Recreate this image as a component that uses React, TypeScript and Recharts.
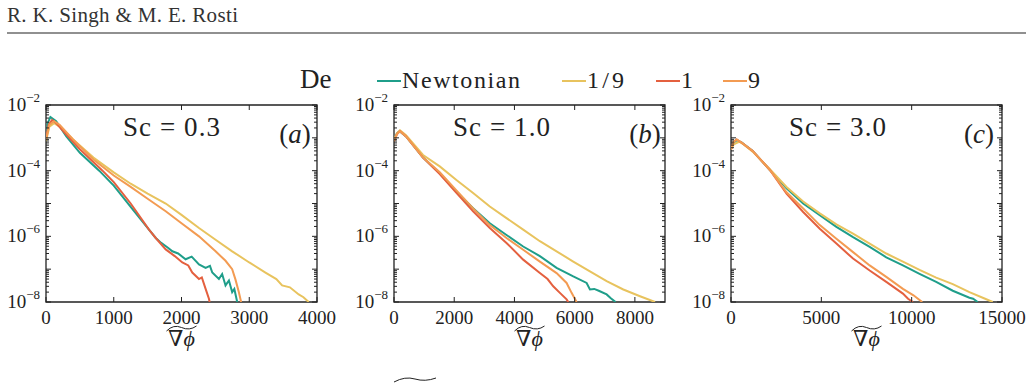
import React from 'react';
import { LineChart, Line, XAxis, YAxis, ReferenceArea, Label } from 'recharts';

const FONT = '"Liberation Serif", "DejaVu Serif", serif';
const INK = '#222';

// series
const seriesNames = ['Newtonian', '1/9', '1', '9'];
const seriesColors = ['#1f9e8a', '#e8c35e', '#e4603f', '#f39b52'];

// y axis (log)
const yLabelTicks = [1e-2, 1e-4, 1e-6, 1e-8];
const yLabelExps = ['\u22122', '\u22124', '\u22126', '\u22128'];
const yDecades = [-8, -7, -6, -5, -4, -3];
const yMantissas = [1, 2, 3, 4, 5, 6, 7, 8, 9];

// x ticks per panel
const xTicksA = [0, 1000, 2000, 3000, 4000];
const xTicksB = [0, 2000, 4000, 6000, 8000];
const xTicksC = [0, 5000, 10000, 15000];

const panelTitles = ['Sc = 0.3', 'Sc = 1.0', 'Sc = 3.0'];
const panelTags = ['a', 'b', 'c'];

// ---- panel (a) Sc = 0.3
const aNewtonian = [
  [0, 7.9e-4], [25, 2.8e-3], [65, 4.3e-3], [150, 3.2e-3], [300, 1.1e-3], [500, 3.5e-4],
  [785, 1e-4], [1000, 3.5e-5], [1250, 7.9e-6], [1520, 1.6e-6], [1620, 8.9e-7], [1700, 6.3e-7],
  [1800, 4.5e-7], [1865, 3.5e-7], [1950, 3.0e-7], [2061, 2.0e-7], [2150, 2.4e-7], [2258, 1.4e-7],
  [2356, 1.1e-7], [2420, 1.26e-7], [2454, 7.9e-8], [2552, 5.0e-8], [2600, 7.1e-8], [2650, 3.2e-8],
  [2700, 4.5e-8], [2748, 2.0e-8], [2780, 2.5e-8], [2822, 1e-8],
];
const aOneNinth = [
  [0, 7.9e-4], [50, 2.2e-3], [120, 2.8e-3], [200, 2.2e-3], [400, 8.9e-4], [700, 2.5e-4],
  [1000, 8.9e-5], [1250, 4.0e-5], [1500, 2.0e-5], [1767, 1.0e-5], [2000, 4.5e-6], [2258, 1.8e-6],
  [2503, 7.9e-7], [2748, 3.5e-7], [3000, 1.6e-7], [3239, 7.9e-8], [3400, 5.0e-8], [3485, 3.2e-8],
  [3600, 2.8e-8], [3730, 1.7e-8], [3800, 1.4e-8], [3877, 1e-8],
];
const aOne = [
  [0, 1e-3], [40, 2.5e-3], [90, 3.5e-3], [150, 2.8e-3], [300, 1.26e-3], [500, 4.5e-4],
  [834, 1e-4], [1000, 4.5e-5], [1250, 1.0e-5], [1520, 1.6e-6], [1620, 8.9e-7], [1767, 4.0e-7],
  [1900, 2.5e-7], [2012, 1.6e-7], [2100, 1.3e-7], [2159, 7.9e-8], [2258, 5.0e-8], [2300, 5.6e-8],
  [2356, 2.5e-8], [2405, 1.26e-8], [2415, 1e-8],
];
const aNine = [
  [0, 8.9e-4], [50, 2.5e-3], [120, 3.2e-3], [200, 2.5e-3], [400, 8.9e-4], [700, 2.2e-4],
  [1000, 7.1e-5], [1250, 3.2e-5], [1500, 1.4e-5], [1767, 5.8e-6], [2000, 2.5e-6], [2258, 1e-6],
  [2503, 3.5e-7], [2650, 1.8e-7], [2748, 1e-7], [2797, 4.8e-8], [2846, 2e-8], [2880, 1e-8],
];

// ---- panel (b) Sc = 1.0
const bNewtonian = [
  [0, 8.7e-4], [100, 1.4e-3], [188, 1.6e-3], [400, 1.1e-3], [964, 2.5e-4], [1519, 8.3e-5],
  [2073, 2.3e-5], [2627, 7.2e-6], [3182, 2.5e-6], [3736, 1.1e-6], [4290, 4.9e-7], [4845, 2.5e-7],
  [5399, 1.1e-7], [5953, 6.0e-8], [6397, 3.8e-8], [6507, 2.4e-8], [6650, 2.5e-8], [6800, 2.2e-8],
  [7062, 1.7e-8], [7200, 1.3e-8], [7361, 1e-8],
];
const bOneNinth = [
  [0, 8.9e-4], [100, 1.4e-3], [200, 1.7e-3], [400, 1.2e-3], [964, 3.0e-4], [1519, 1.35e-4],
  [2073, 5.2e-5], [2627, 2.1e-5], [3182, 8.1e-6], [3736, 3.6e-6], [4290, 1.6e-6], [4845, 7.1e-7],
  [5399, 3.5e-7], [5953, 1.7e-7], [6507, 8.5e-8], [7062, 4.3e-8], [7616, 2.4e-8], [8170, 1.5e-8],
  [8669, 1e-8],
];
const bOne = [
  [0, 7.9e-4], [100, 1.3e-3], [200, 1.6e-3], [400, 1.1e-3], [964, 2.5e-4], [1519, 7.9e-5],
  [2073, 2.1e-5], [2627, 5.8e-6], [3182, 1.8e-6], [3736, 6.3e-7], [4290, 1.95e-7], [4845, 7.6e-8],
  [5100, 5.0e-8], [5288, 3.0e-8], [5510, 1.9e-8], [5732, 1.2e-8], [5788, 1e-8],
];
const bNine = [
  [0, 7.9e-4], [100, 1.3e-3], [200, 1.6e-3], [400, 1.1e-3], [964, 2.5e-4], [1519, 8.9e-5],
  [2073, 2.5e-5], [2627, 7.1e-6], [3182, 2.2e-6], [3736, 8.9e-7], [4290, 3.9e-7], [4845, 1.7e-7],
  [5399, 7.6e-8], [5732, 3.8e-8], [5898, 1.9e-8], [6064, 1e-8],
];

// ---- panel (c) Sc = 3.0
const cNewtonian = [
  [0, 4.5e-4], [150, 7.1e-4], [313, 8.5e-4], [600, 7.1e-4], [1200, 4.0e-4], [2153, 1.05e-4],
  [3074, 2.9e-5], [3994, 1.0e-5], [4914, 4.4e-6], [5834, 1.95e-6], [6755, 9.5e-7], [7675, 4.8e-7],
  [8595, 2.3e-7], [9516, 1.3e-7], [10436, 7.2e-8], [11356, 4.1e-8], [12276, 2.2e-8], [13197, 1.35e-8],
  [13400, 1.26e-8], [13657, 1e-8],
];
const cOneNinth = [
  [0, 4.5e-4], [150, 6.3e-4], [450, 7.6e-4], [700, 6.3e-4], [1200, 3.8e-4], [2153, 1.1e-4],
  [3074, 3.2e-5], [3994, 1.15e-5], [4914, 5.0e-6], [5834, 2.3e-6], [6755, 1.2e-6], [7675, 6.0e-7],
  [8595, 3.0e-7], [9516, 1.7e-7], [10436, 9.5e-8], [11356, 5.5e-8], [12276, 3.5e-8], [13197, 2.0e-8],
  [14000, 1.3e-8], [14485, 1e-8],
];
const cOne = [
  [0, 4.5e-4], [150, 7.6e-4], [313, 8.9e-4], [600, 7.1e-4], [1200, 4.0e-4], [2153, 1.05e-4],
  [3074, 2.0e-5], [3994, 5.5e-6], [4914, 1.7e-6], [5834, 6.0e-7], [6755, 2.1e-7], [7675, 9.1e-8],
  [8595, 4.1e-8], [9516, 1.8e-8], [9800, 1.26e-8], [10068, 1e-8],
];
const cNine = [
  [0, 4.5e-4], [150, 7.6e-4], [313, 8.9e-4], [600, 7.1e-4], [1200, 4.0e-4], [2153, 1.05e-4],
  [3074, 2.2e-5], [3994, 7.1e-6], [4914, 2.2e-6], [5834, 8.5e-7], [6755, 3.3e-7], [7675, 1.3e-7],
  [8595, 5.8e-8], [9516, 2.5e-8], [10100, 1.6e-8], [10583, 1e-8],
];

const toPoints = (pairs: number[][]) => pairs.map(([x, y]) => ({ x, y }));

const yAllTicks = yDecades
  .flatMap((d) => yMantissas.map((m) => m * Math.pow(10, d)))
  .concat([1e-2]);

// layout
const PLOT_TOP = 105;
const PLOT_W = 271;
const PLOT_H = 197;
const Y_W = 60;
const M_TOP = 24;
const M_RIGHT = 30;
const X_H = 60;

const panels = [
  { left: 46, xMax: 4000, xTicks: xTicksA, series: [aNewtonian, aOneNinth, aOne, aNine], titleX: 172, tagX: 295 },
  { left: 394, xMax: 9000, xTicks: xTicksB, series: [bNewtonian, bOneNinth, bOne, bNine], titleX: 502, tagX: 645 },
  { left: 731, xMax: 15000, xTicks: xTicksC, series: [cNewtonian, cOneNinth, cOne, cNine], titleX: 838, tagX: 979 },
];

const YTick = (props: any) => {
  const { x, y, payload, plotW } = props;
  const v = payload.value;
  const lg = Math.log10(v);
  const isDecade = Math.abs(lg - Math.round(lg)) < 1e-6;
  const len = isDecade ? 5 : 3;
  const idx = yLabelTicks.findIndex((t) => Math.abs(Math.log10(t) - lg) < 1e-6);
  return (
    <g>
      <line x1={x} x2={x + len} y1={y} y2={y} stroke={INK} strokeWidth={1} />
      <line x1={x + plotW} x2={x + plotW - len} y1={y} y2={y} stroke={INK} strokeWidth={1} />
      {idx >= 0 && (
        <text x={x - 6} y={y + 6} textAnchor="end" fontFamily={FONT} fontSize={19} fill={INK}>
          10
          <tspan dy={-9} fontSize={13}>{yLabelExps[idx]}</tspan>
        </text>
      )}
    </g>
  );
};

const XTick = (props: any) => {
  const { x, y, payload, plotH } = props;
  return (
    <g>
      <line x1={x} x2={x} y1={y} y2={y - 5} stroke={INK} strokeWidth={1} />
      <line x1={x} x2={x} y1={y - plotH} y2={y - plotH + 5} stroke={INK} strokeWidth={1} />
      <text x={x} y={y + 22} textAnchor="middle" fontFamily={FONT} fontSize={19} fill={INK}>
        {payload.value}
      </text>
    </g>
  );
};

const GradLabel = (props: any) => {
  const vb = props.viewBox || {};
  const cx = vb.x + vb.width / 2;
  const by = vb.y + 44;
  return (
    <g>
      <path
        d={`M ${cx - 15} ${by - 15} Q ${cx - 8} ${by - 22} ${cx} ${by - 18.5} T ${cx + 15} ${by - 20}`}
        fill="none"
        stroke={INK}
        strokeWidth={1}
      />
      <text x={cx} y={by} textAnchor="middle" fontFamily={FONT} fontSize={22} fill={INK}>
        {'\u2207'}
        <tspan fontStyle="italic">{'\u03d5'}</tspan>
      </text>
    </g>
  );
};

function Panel({ cfg }: { cfg: (typeof panels)[number] }) {
  return (
    <div style={{ position: 'absolute', left: cfg.left - Y_W, top: PLOT_TOP - M_TOP }}>
      <LineChart
        width={Y_W + PLOT_W + M_RIGHT}
        height={M_TOP + PLOT_H + X_H}
        margin={{ top: M_TOP, right: M_RIGHT, left: 0, bottom: 0 }}
      >
        <XAxis
          type="number"
          dataKey="x"
          domain={[0, cfg.xMax]}
          ticks={cfg.xTicks}
          interval={0}
          height={X_H}
          tickSize={0}
          tickMargin={0}
          tickLine={false}
          axisLine={false}
          allowDataOverflow
          tick={<XTick plotH={PLOT_H} />}
        >
          <Label content={<GradLabel />} />
        </XAxis>
        <YAxis
          type="number"
          scale="log"
          domain={[1e-8, 1e-2]}
          ticks={yAllTicks}
          interval={0}
          width={Y_W}
          tickSize={0}
          tickMargin={0}
          tickLine={false}
          axisLine={false}
          allowDataOverflow
          tick={<YTick plotW={PLOT_W} />}
        />
        <ReferenceArea
          x1={0}
          x2={cfg.xMax}
          y1={1e-8}
          y2={1e-2}
          fill="none"
          fillOpacity={0}
          stroke={INK}
          strokeWidth={1.3}
          ifOverflow="visible"
        />
        {cfg.series.map((s, i) => (
          <Line
            key={seriesNames[i]}
            name={seriesNames[i]}
            data={toPoints(s)}
            dataKey="y"
            type="linear"
            stroke={seriesColors[i]}
            strokeWidth={2}
            dot={false}
            isAnimationActive={false}
          />
        ))}
      </LineChart>
    </div>
  );
}

const legendX = [377, 562, 656, 723];
const legendTextW = [118, 37, 12, 12];

export default function App() {
  return (
    <div style={{ position: 'absolute', left: 0, top: 0, width: 1033, height: 387, background: '#fff', overflow: 'hidden' }}>
      <svg width={1033} height={387} style={{ position: 'absolute', left: 0, top: 0 }}>
        <text x={7} y={22} fontFamily={FONT} fontSize={21} fill="#333" textLength={231} lengthAdjust="spacing">
          R. K. Singh &amp; M. E. Rosti
        </text>
        <line x1={7} x2={1026} y1={33} y2={33} stroke={INK} strokeWidth={1.2} />

        <text x={300} y={88} fontFamily={FONT} fontSize={27} fill={INK}>De</text>
        {seriesNames.map((n, i) => (
          <g key={n}>
            <line x1={legendX[i]} x2={legendX[i] + 24} y1={81} y2={81} stroke={seriesColors[i]} strokeWidth={2} />
            <text
              x={legendX[i] + 25}
              y={88}
              fontFamily={FONT}
              fontSize={24}
              fill={INK}
              textLength={n.length > 1 ? legendTextW[i] : undefined}
              lengthAdjust="spacing"
            >
              {n}
            </text>
          </g>
        ))}

        {panels.map((p, i) => (
          <g key={panelTags[i]}>
            <text
              x={p.titleX - 49}
              y={136}
              fontFamily={FONT}
              fontSize={27}
              fill={INK}
              textLength={97}
              lengthAdjust="spacing"
            >
              {panelTitles[i]}
            </text>
            <text x={p.tagX} y={143} textAnchor="middle" fontFamily={FONT} fontSize={27} fill={INK}>
              (<tspan fontStyle="italic">{panelTags[i]}</tspan>)
            </text>
          </g>
        ))}

        <path d="M 394 382 Q 405 376 415 379 T 436 378" fill="none" stroke={INK} strokeWidth={1} />
      </svg>
      {panels.map((p, i) => (
        <Panel key={i} cfg={p} />
      ))}
    </div>
  );
}
